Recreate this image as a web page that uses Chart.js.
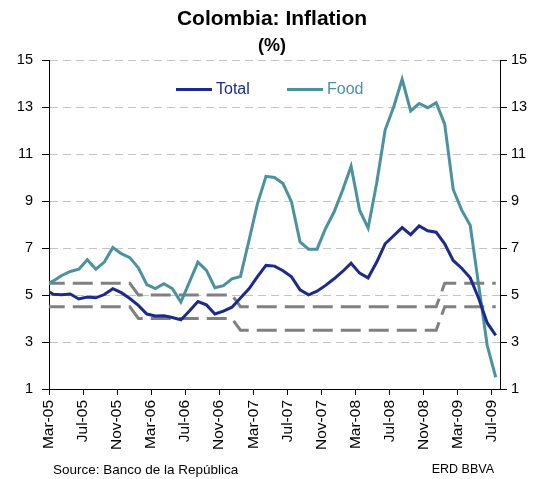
<!DOCTYPE html>
<html>
<head>
<meta charset="utf-8">
<script src="https://cdn.jsdelivr.net/npm/chart.js@4.4.1/dist/chart.umd.min.js"></script>
<style>
  html, body { margin: 0; padding: 0; background: #ffffff; }
  #wrap { width: 544px; height: 479px; position: relative; }
</style>
</head>
<body>
<div id="wrap"><canvas id="c" width="544" height="479"></canvas></div>
<script>
// ---------------- DATA ----------------
// Monthly observations, Feb-05 .. Jul-09 (Feb-05 lies just left of the axis and is clipped)
const months = [
  'Feb-05','Mar-05','Apr-05','May-05','Jun-05','Jul-05','Aug-05','Sep-05','Oct-05','Nov-05','Dec-05',
  'Jan-06','Feb-06','Mar-06','Apr-06','May-06','Jun-06','Jul-06','Aug-06','Sep-06','Oct-06','Nov-06','Dec-06',
  'Jan-07','Feb-07','Mar-07','Apr-07','May-07','Jun-07','Jul-07','Aug-07','Sep-07','Oct-07','Nov-07','Dec-07',
  'Jan-08','Feb-08','Mar-08','Apr-08','May-08','Jun-08','Jul-08','Aug-08','Sep-08','Oct-08','Nov-08','Dec-08',
  'Jan-09','Feb-09','Mar-09','Apr-09','May-09','Jun-09','Jul-09'
];
const totalValues = [
  5.25, 5.03, 5.01, 5.04, 4.83, 4.91, 4.88, 5.02, 5.27, 5.10, 4.85,
  4.56, 4.19, 4.11, 4.12, 4.04, 3.94, 4.32, 4.72, 4.58, 4.19, 4.31, 4.48,
  4.87, 5.26, 5.78, 6.26, 6.23, 6.03, 5.77, 5.22, 5.01, 5.16, 5.41, 5.69,
  6.00, 6.35, 5.93, 5.73, 6.39, 7.18, 7.52, 7.87, 7.57, 7.94, 7.73, 7.67,
  7.18, 6.47, 6.14, 5.73, 4.85, 3.81, 3.28
];
const foodValues = [
  5.40, 5.60, 5.83, 6.00, 6.10, 6.50, 6.10, 6.40, 7.02, 6.76, 6.59,
  6.16, 5.44, 5.27, 5.48, 5.27, 4.70, 5.55, 6.40, 6.05, 5.31, 5.40, 5.69,
  5.79, 7.32, 8.89, 10.05, 10.00, 9.74, 8.96, 7.26, 6.95, 6.95, 7.83, 8.53,
  9.46, 10.48, 8.61, 7.85, 9.74, 12.02, 13.00, 14.18, 12.83, 13.15, 12.97, 13.18,
  12.27, 9.49, 8.61, 7.97, 5.40, 2.85, 1.50
];
// Central bank inflation target range by year
const targetYears = ['05', '06', '07', '08', '09'];
const targetUpperByYear = [5.5, 5.0, 4.5, 4.5, 5.5];
const targetLowerByYear = [4.5, 4.0, 3.5, 3.5, 4.5];
// Axis tick labels
const tickLabels = ['Mar-05','Jul-05','Nov-05','Mar-06','Jul-06','Nov-06','Mar-07','Jul-07','Nov-07','Mar-08','Jul-08','Nov-08','Mar-09','Jul-09'];
const yMin = 1, yMax = 15, yStep = 2;

// ---------------- BUILD ----------------
// x position in months since 1 Mar 2005; observations sit mid-month
const xOf = i => i - 0.5;
const yearIdx = m => targetYears.indexOf(m.slice(-2));
const toPts = vals => vals.map((v, i) => ({ x: xOf(i), y: v }));
const upperPts = toPts(months.map(m => targetUpperByYear[yearIdx(m)]));
const lowerPts = toPts(months.map(m => targetLowerByYear[yearIdx(m)]));
const tickPositions = tickLabels.map((_, i) => i * 4);

const FONT = '"Liberation Sans", Arial, Helvetica, sans-serif';
const TOTAL_C = '#1b2a8c';
const FOOD_C = '#4a92a0';
const BAND_C = '#808080';
const AXIS_C = '#000000';

Chart.defaults.font.family = FONT;
Chart.defaults.color = '#000';

const decor = {
  id: 'decor',
  afterDraw(chart) {
    const ctx = chart.ctx;
    ctx.save();
    ctx.fillStyle = '#000';
    ctx.textAlign = 'center';
    ctx.textBaseline = 'middle';
    ctx.font = 'bold 21px ' + FONT;
    ctx.fillText('Colombia: Inflation', 272, 19);
    ctx.font = 'bold 18px ' + FONT;
    ctx.fillText('(%)', 272, 46);
    // footer
    ctx.font = '13.5px ' + FONT;
    ctx.textAlign = 'left';
    ctx.fillText('Source: Banco de la República', 53, 470);
    ctx.font = '12.5px ' + FONT;
    ctx.textAlign = 'right';
    ctx.fillText('ERD BBVA', 494, 470);
    // legend
    const items = [
      { label: 'Total', color: TOTAL_C, x: 176 },
      { label: 'Food', color: FOOD_C, x: 287 }
    ];
    ctx.font = '16px ' + FONT;
    ctx.textAlign = 'left';
    items.forEach(it => {
      ctx.strokeStyle = it.color;
      ctx.lineWidth = 3;
      ctx.beginPath();
      ctx.moveTo(it.x, 89.5);
      ctx.lineTo(it.x + 36, 89.5);
      ctx.stroke();
      ctx.fillStyle = it.color;
      ctx.fillText(it.label, it.x + 40, 89.5);
    });
    ctx.restore();
  }
};

new Chart(document.getElementById('c'), {
  type: 'line',
  data: {
    datasets: [
      { label: 'Total', data: toPts(totalValues), borderColor: TOTAL_C, borderWidth: 3, pointRadius: 0, tension: 0, clip: 0 },
      { label: 'Food', data: toPts(foodValues), borderColor: FOOD_C, borderWidth: 3, pointRadius: 0, tension: 0, clip: 0 },
      { label: 'Target upper', data: upperPts, borderColor: BAND_C, borderWidth: 3, borderDash: [20, 8], pointRadius: 0, tension: 0, clip: 0 },
      { label: 'Target lower', data: lowerPts, borderColor: BAND_C, borderWidth: 3, borderDash: [20, 8], pointRadius: 0, tension: 0, clip: 0 }
    ]
  },
  options: {
    responsive: false,
    animation: false,
    events: [],
    layout: { padding: { top: 60, left: 0, right: 0, bottom: 0 } },
    plugins: { legend: { display: false }, title: { display: false }, tooltip: { enabled: false } },
    scales: {
      x: {
        type: 'linear',
        min: 0,
        max: 53,
        afterBuildTicks: s => { s.ticks = tickPositions.map(v => ({ value: v })); },
        afterFit: s => { s.height = 90; },
        ticks: {
          autoSkip: false,
          minRotation: 90,
          maxRotation: 90,
          padding: 5,
          font: { size: 15.5 },
          color: '#000',
          callback: (v, i) => tickLabels[i]
        },
        grid: { drawOnChartArea: false, tickLength: 6, tickColor: AXIS_C, color: AXIS_C },
        border: { color: AXIS_C, width: 1 }
      },
      y: {
        position: 'left',
        min: yMin,
        max: yMax,
        afterFit: s => { s.width = 49; },
        ticks: { stepSize: yStep, padding: 9, font: { size: 14.5 }, color: '#000' },
        grid: { color: '#c4c4c4', lineWidth: 1, tickLength: 7, tickColor: AXIS_C, tickBorderDash: [] },
        border: { color: AXIS_C, width: 1, dash: [8, 5] }
      },
      y2: {
        position: 'right',
        min: yMin,
        max: yMax,
        afterFit: s => { s.width = 44; },
        ticks: { stepSize: yStep, padding: 4, font: { size: 14.5 }, color: '#000' },
        grid: { drawOnChartArea: false, tickLength: 7, tickColor: AXIS_C, color: AXIS_C },
        border: { color: AXIS_C, width: 1 }
      }
    }
  },
  plugins: [decor]
});
</script>
</body>
</html>
